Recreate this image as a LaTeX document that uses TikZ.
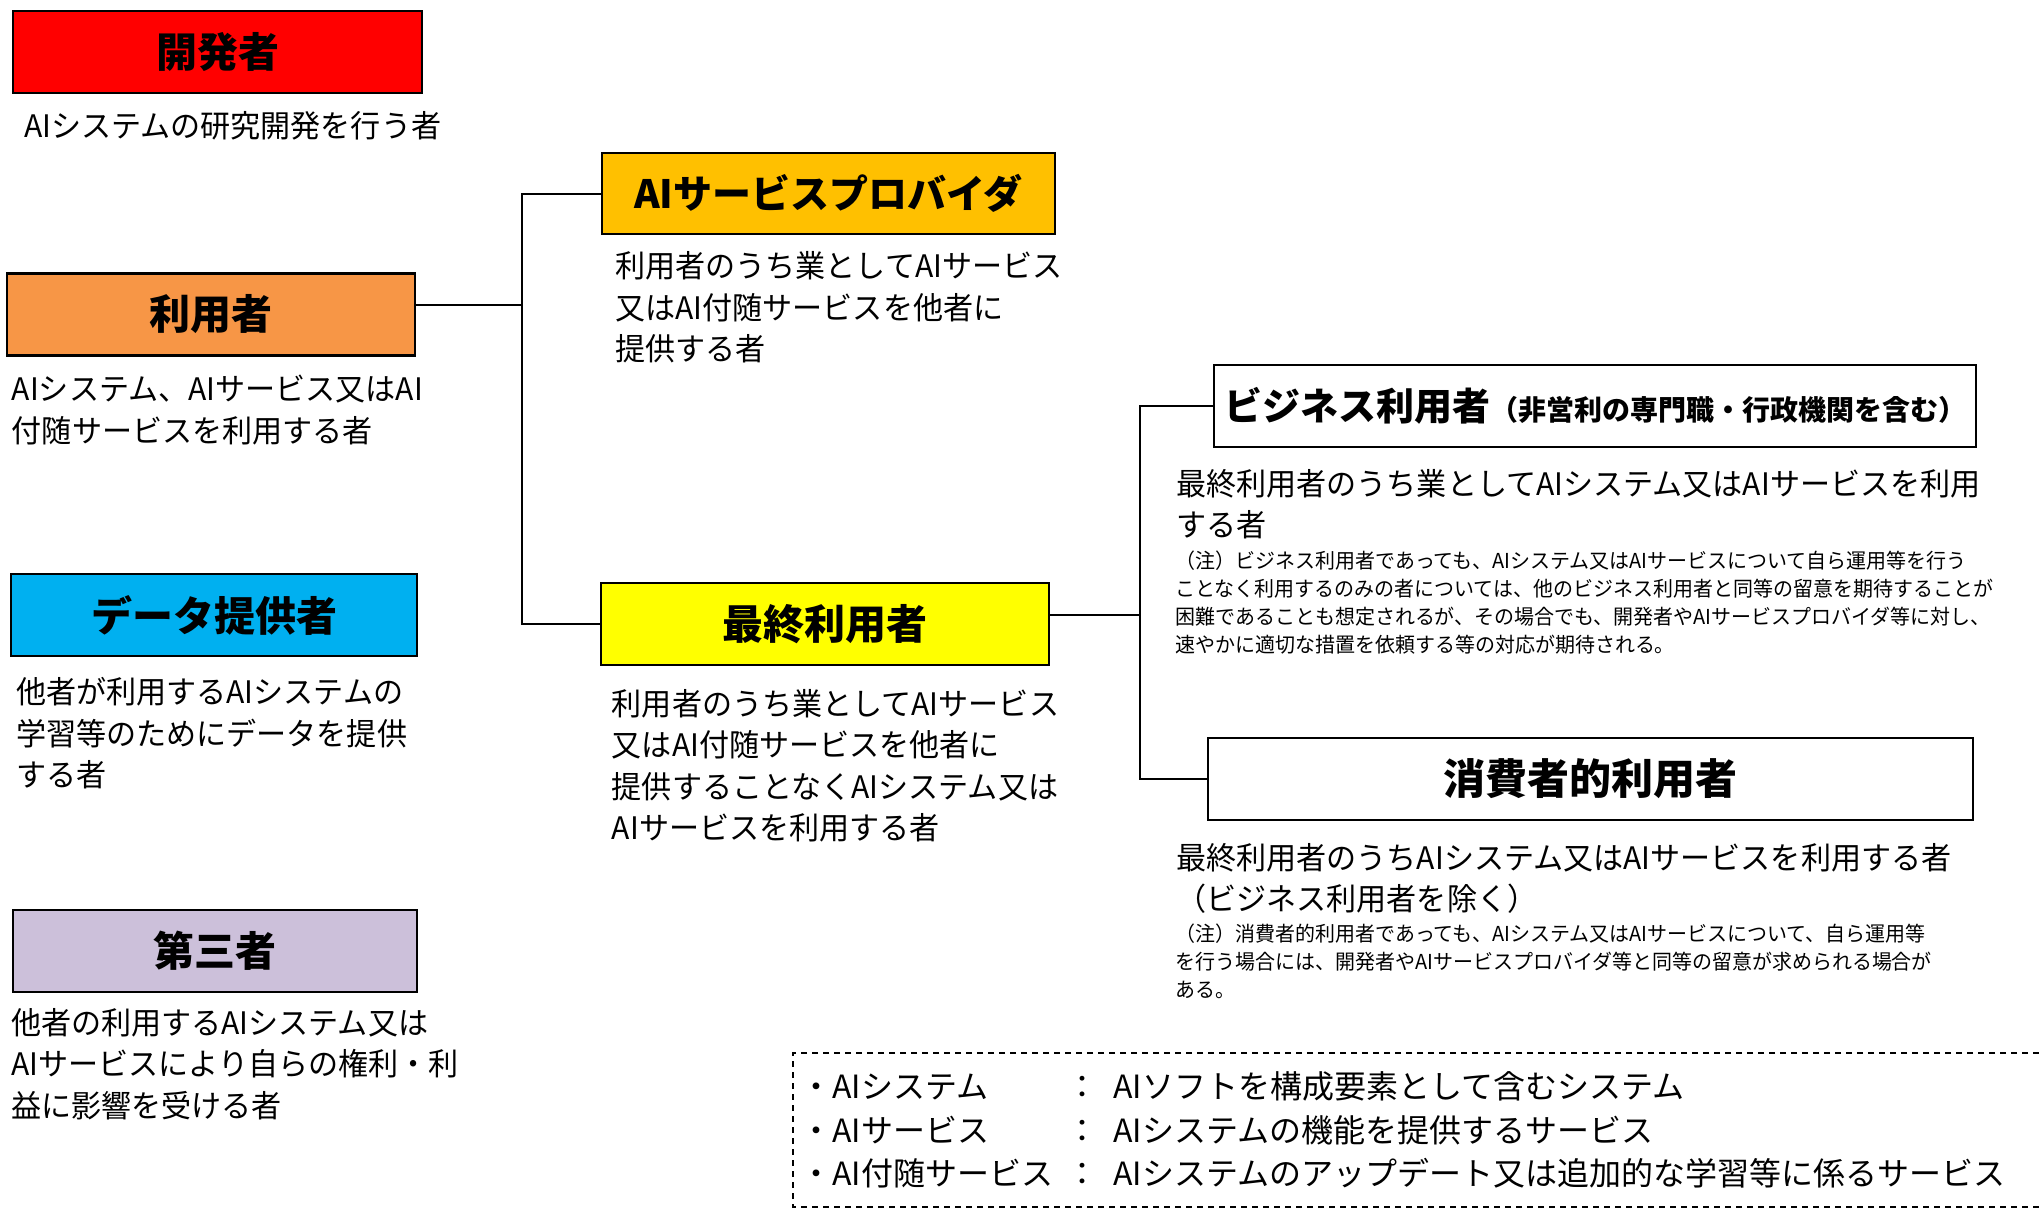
\documentclass[tikz,border=0pt]{standalone}
\usepackage{fontspec}
\setmainfont{Noto Sans CJK JP}[FakeStretch=0.97]
\newfontfamily\headfont{Noto Sans CJK JP}
\usepackage{xcolor}
\definecolor{devred}{HTML}{FF0000}
\definecolor{userorange}{HTML}{F79646}
\definecolor{datablue}{HTML}{00B0F0}
\definecolor{thirdlilac}{HTML}{CCC0DA}
\definecolor{provgold}{HTML}{FFC000}
\definecolor{endyellow}{HTML}{FFFF00}
\newcommand{\headsize}{\headfont\fontsize{20.5pt}{24pt}\selectfont\bfseries}
\newcommand{\descsize}{\fontsize{15.5pt}{20.75pt}\selectfont}
\newcommand{\notesize}{\fontsize{10.3pt}{14pt}\selectfont}
\newcommand{\defsize}{\headfont\fontsize{16pt}{21.75pt}\selectfont}

\begin{document}
\begin{tikzpicture}[x=0.5pt, y=-0.5pt,
        role/.style={draw, line width=1.2pt, inner sep=0pt, font=\headsize, minimum height=41pt},
        desc/.style={anchor=north west, inner sep=0pt, align=left, font=\descsize},
        note/.style={anchor=north west, inner sep=0pt, align=left, font=\notesize},
        link/.style={line width=1pt}]
    \useasboundingbox (0,0) rectangle (2039,1211);

    \node[role, fill=devred, minimum width=204.5pt] (dev) at (217.5,52) {開発者};
    \node[desc] (devtxt) at (23.7,111) {AIシステムの研究開発を行う者};

    \node[role, fill=userorange, minimum width=204pt] (user) at (211,314.5) {利用者};
    \node[desc] (usertxt) at (11.5,375) {AIシステム、AIサービス又はAI\\付随サービスを利用する者};

    \node[role, fill=datablue, minimum width=203pt] (data) at (214,615) {データ提供者};
    \node[desc] (datatxt) at (15.8,677) {他者が利用するAIシステムの\\学習等のためにデータを提供\\する者};

    \node[role, fill=thirdlilac, minimum width=202pt] (third) at (215,951) {第三者};
    \node[desc] (thirdtxt) at (10.7,1008) {他者の利用するAIシステム又は\\AIサービスにより自らの権利・利\\益に影響を受ける者};

    \node[role, fill=provgold, minimum width=226.5pt, minimum height=40.5pt,
        font=\headfont\fontsize{19.5pt}{23pt}\selectfont\bfseries] (prov) at (828.5,193.5) {AIサービスプロバイダ};
    \node[desc] (provtxt) at (615,251.5) {利用者のうち業としてAIサービス\\又はAI付随サービスを他者に\\提供する者};

    \node[role, fill=endyellow, minimum width=224pt] (endu) at (825,624) {最終利用者};
    \node[desc] (endutxt) at (611.5,689) {利用者のうち業としてAIサービス\\又はAI付随サービスを他者に\\提供することなくAIシステム又は\\AIサービスを利用する者};

    \node[role, fill=white, minimum width=381pt, font=\headfont\fontsize{19pt}{22pt}\selectfont\bfseries] (biz) at (1595,406)
        {ビジネス利用者{\fontsize{14pt}{16pt}\selectfont（非営利の専門職・行政機関を含む）}};
    \node[desc] (biztxt) at (1176,469) {最終利用者のうち業としてAIシステム又はAIサービスを利用\\する者};
    \node[note] (biznote) at (1175,550.5) {（注）ビジネス利用者であっても、AIシステム又はAIサービスについて自ら運用等を行う\\ことなく利用するのみの者については、他のビジネス利用者と同等の留意を期待することが\\困難であることも想定されるが、その場合でも、開発者やAIサービスプロバイダ等に対し、\\速やかに適切な措置を依頼する等の対応が期待される。};

    \node[role, fill=white, minimum width=382.5pt, font=\headfont\fontsize{21pt}{24pt}\selectfont\bfseries] (cons) at (1590.5,779) {消費者的利用者};
    \node[desc] (constxt) at (1176,843) {最終利用者のうちAIシステム又はAIサービスを利用する者\\（ビジネス利用者を除く）};
    \node[note] (consnote) at (1175,923.5) {（注）消費者的利用者であっても、AIシステム又はAIサービスについて、自ら運用等\\を行う場合には、開発者やAIサービスプロバイダ等と同等の留意が求められる場合が\\ある。};

    \coordinate (jl) at (522,305);
    \coordinate (jr) at (1140,615);
    \draw[link] (user.east |- jl) -- (jl);
    \draw[link] (prov.west) -| (jl) |- (endu.west);
    \draw[link] (endu.east |- jr) -- (jr);
    \draw[link] (biz.west) -| (jr) |- (cons.west);

    \draw[line width=1pt, dash pattern=on 3pt off 2.5pt] (2039,1053) -| (793,1207) -- (2039,1207);
    \node[anchor=north west, inner sep=0pt, font=\defsize] (defs) at (800,1068) {%
        \begin{tabular}{@{}p{133pt}@{}l@{}l@{}}
            ・AIシステム & \makebox[23.5pt][l]{：} & AIソフトを構成要素として含むシステム\\
            ・AIサービス & \makebox[23.5pt][l]{：} & AIシステムの機能を提供するサービス\\
            ・AI付随サービス & \makebox[23.5pt][l]{：} & AIシステムのアップデート又は追加的な学習等に係るサービス
        \end{tabular}};
\end{tikzpicture}
\end{document}
